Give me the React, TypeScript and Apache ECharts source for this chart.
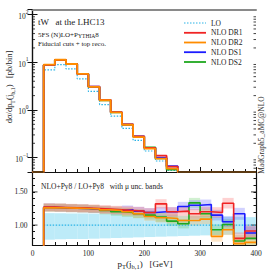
import React, { useEffect, useRef } from 'react';
import * as echarts from 'echarts';

// ---------- data ----------
const X_MIN = 0;
const X_MAX = 400;
const Y_MIN = 0.05;
const Y_MAX = 128;
const R_MIN = 0.7;
const R_MAX = 1.8;

// main panel bins (pT edges, GeV)
const mainEdges = [20, 40, 60, 80, 100, 120, 140, 160, 180, 200, 220, 240, 260];
const loMain = [6.9, 8.9, 7.3, 4.5, 2.45, 1.3, 0.74, 0.41, 0.23, 0.138, 0.085, 0.054];
const dr1Main = [8.8, 11.2, 9.3, 5.7, 3.1, 1.63, 0.9, 0.5, 0.28, 0.16, 0.11, 0.065];
const dr2Main = [8.9, 11.3, 9.2, 5.7, 3.05, 1.6, 0.89, 0.49, 0.27, 0.155, 0.095, 0.059];
const ds1Main = [8.8, 11.2, 9.25, 5.7, 3.08, 1.61, 0.9, 0.5, 0.28, 0.16, 0.1, 0.066];
const ds2Main = [8.8, 11.2, 9.2, 5.7, 3.05, 1.6, 0.89, 0.49, 0.275, 0.165, 0.097, 0.056];

// ratio panel bins
const ratioEdges = [20, 40, 60, 80, 100, 120, 140, 160, 180, 200, 220, 240, 260, 280, 300, 320, 340, 360, 380, 400];
const dr1Ratio = [1.27, 1.265, 1.26, 1.255, 1.25, 1.24, 1.23, 1.22, 1.21, 1.19, 1.32, 1.2, 1.21, 1.17, 1.2, 1.19, 1.33, 0.8, 0.91];
const dr2Ratio = [1.26, 1.26, 1.255, 1.25, 1.245, 1.23, 1.22, 1.2, 1.17, 1.13, 1.11, 1.1, 1.07, 1.07, 1.09, 0.83, 0.93, 0.72, 0.74];
const ds1Ratio = [1.265, 1.26, 1.255, 1.25, 1.24, 1.23, 1.22, 1.23, 1.21, 1.19, 1.2, 1.2, 1.28, 1.3, 1.31, 1.15, 1.05, 1.17, 0.88];
const ds2Ratio = [1.265, 1.26, 1.255, 1.25, 1.24, 1.22, 1.2, 1.19, 1.17, 1.15, 1.12, 1.06, 1.02, 1.335, 1.17, 0.93, 1.01, 0.76, 0.8];
const nloUnc = [0.06, 0.06, 0.06, 0.06, 0.06, 0.06, 0.06, 0.065, 0.065, 0.065, 0.07, 0.07, 0.07, 0.075, 0.075, 0.08, 0.08, 0.09, 0.1];
const loBandUp = [1.18, 1.18, 1.175, 1.175, 1.17, 1.165, 1.165, 1.16, 1.155, 1.15, 1.15, 1.145, 1.14, 1.14, 1.135, 1.13, 1.13, 1.125, 1.12];
const loBandDn = [0.78, 0.785, 0.79, 0.79, 0.795, 0.8, 0.805, 0.81, 0.815, 0.82, 0.825, 0.83, 0.835, 0.84, 0.845, 0.85, 0.855, 0.86, 0.865];

const ratioTickLabels = ['1.00', '1.50'];
const legendNames = ['LO', 'NLO DR1', 'NLO DR2', 'NLO DS1', 'NLO DS2'];

// ---------- styles ----------
const FONT = "'Liberation Serif', 'DejaVu Serif', serif";
const TXT = '#222';
const C_LO = '#2ab3e6';
const C_DR1 = '#f02424';
const C_DR2 = '#ff8c00';
const C_DS1 = '#1c1cff';
const C_DS2 = '#1fa81f';
const B_LO = '#bdebf8';
const B_DR1 = 'rgba(250,90,90,0.28)';
const B_DR2 = 'rgba(255,170,60,0.28)';
const B_DS1 = 'rgba(90,90,250,0.28)';
const B_DS2 = 'rgba(90,200,90,0.28)';
const FLOOR = '#5c3a12';

const GL = 32.5;
const GW = 223.5;

function mainStep(vals: number[]) {
  const pts: number[][] = [[X_MIN, Y_MIN]];
  for (let i = 0; i < vals.length; i++) pts.push([mainEdges[i], vals[i]]);
  pts.push([mainEdges[mainEdges.length - 1], Y_MIN]);
  pts.push([X_MAX, Y_MIN]);
  return pts;
}
function ratioStep(vals: number[]) {
  const pts: number[][] = [[X_MIN, 0]];
  for (let i = 0; i < vals.length; i++) pts.push([ratioEdges[i], vals[i]]);
  pts.push([ratioEdges[ratioEdges.length - 1], vals[vals.length - 1]]);
  return pts;
}
function bandData(lo: number[], hi: number[]) {
  return lo.map((l, i) => [ratioEdges[i], ratioEdges[i + 1], l, hi[i]]);
}

function bandSeries(data: number[][], color: string) {
  return {
    type: 'custom',
    xAxisIndex: 2,
    yAxisIndex: 2,
    silent: true,
    data,
    encode: { x: [0, 1], y: [2, 3] },
    renderItem: (params: any, api: any) => {
      const p0 = api.coord([api.value(0), api.value(3)]);
      const p1 = api.coord([api.value(1), api.value(2)]);
      const cs = params.coordSys;
      const shape = echarts.graphic.clipRectByRect(
        { x: p0[0], y: p0[1], width: p1[0] - p0[0], height: p1[1] - p0[1] },
        { x: cs.x, y: cs.y, width: cs.width, height: cs.height }
      );
      if (!shape) return null;
      return { type: 'rect', shape, style: { fill: color } };
    },
  };
}

function stepLine(data: number[][], color: string, xi: number, yi: number, width: number, dotted = false) {
  return {
    type: 'line',
    xAxisIndex: xi,
    yAxisIndex: yi,
    data,
    step: 'end',
    symbol: 'none',
    silent: true,
    clip: true,
    lineStyle: { color, width, type: dotted ? [1.5, 1.5] : 'solid' },
  };
}

const minorLogTicks: number[] = [];
for (const d of [0.01, 0.1, 1, 10]) {
  for (let k = 2; k <= 9; k++) {
    const v = +(k * d).toPrecision(3);
    if (v > Y_MIN && v < Y_MAX) minorLogTicks.push(v);
  }
}

function tickSeries(values: number[], xi: number, yi: number, len: number) {
  return {
    type: 'custom',
    xAxisIndex: xi,
    yAxisIndex: yi,
    silent: true,
    data: values.map((v) => [X_MIN, v]),
    encode: { x: 0, y: 1 },
    renderItem: (params: any, api: any) => {
      const p = api.coord([X_MIN, api.value(1)]);
      const q = api.coord([X_MAX, api.value(1)]);
      return {
        type: 'group',
        children: [
          { type: 'line', shape: { x1: p[0], y1: p[1], x2: p[0] + len, y2: p[1] }, style: { stroke: '#111', lineWidth: 0.8 } },
          { type: 'line', shape: { x1: q[0] - len, y1: q[1], x2: q[0], y2: q[1] }, style: { stroke: '#111', lineWidth: 0.8 } },
        ],
      };
    },
  };
}

const axisLineStyle = { lineStyle: { color: '#111', width: 1.2 } };

export default function App() {
  const ref = useRef<HTMLDivElement>(null);
  useEffect(() => {
    if (!ref.current) return;
    const chart = echarts.init(ref.current, undefined, { renderer: 'svg' });
    const legendColors = [C_LO, C_DR1, C_DR2, C_DS1, C_DS2];
    const legendY = [23, 32.8, 42.5, 52.2, 62];
    const legendGraphics: any[] = [];
    legendNames.forEach((n, i) => {
      legendGraphics.push({
        type: 'line',
        shape: { x1: 184, y1: legendY[i], x2: 206, y2: legendY[i] },
        style: { stroke: legendColors[i], lineWidth: i === 0 ? 1 : 1.8, lineDash: i === 0 ? [1.5, 1.5] : null },
      });
      legendGraphics.push({
        type: 'text',
        x: 211,
        y: legendY[i],
        style: { text: n, fontFamily: FONT, fontSize: 7.5, fill: TXT, verticalAlign: 'middle' },
      });
    });

    const option: any = {
      animation: false,
      backgroundColor: '#fff',
      grid: [
        { left: GL, top: 9.5, width: GW, height: 162.5 },
        { left: GL, top: 172, width: GW, height: 73 },
      ],
      xAxis: [
        {
          gridIndex: 0, type: 'value', min: X_MIN, max: X_MAX, interval: 100, position: 'bottom',
          axisLine: axisLineStyle,
          axisTick: { inside: true, length: 5, lineStyle: { color: '#111' } },
          minorTick: { show: true, splitNumber: 5, length: 3, lineStyle: { color: '#111' } },
          axisLabel: { show: false }, splitLine: { show: false },
        },
        {
          gridIndex: 0, type: 'value', min: X_MIN, max: X_MAX, position: 'top',
          axisLine: { lineStyle: { color: '#8a8a8a', width: 2 } },
          axisTick: { show: false }, axisLabel: { show: false }, splitLine: { show: false },
        },
        {
          gridIndex: 1, type: 'value', min: X_MIN, max: X_MAX, interval: 100, position: 'bottom',
          axisLine: axisLineStyle,
          axisTick: { inside: true, length: 5, lineStyle: { color: '#111' } },
          minorTick: { show: true, splitNumber: 5, length: 3, lineStyle: { color: '#111' } },
          axisLabel: { fontFamily: FONT, fontSize: 7.5, color: TXT, margin: 4, lineHeight: 8 },
          splitLine: { show: false },
        },
      ],
      yAxis: [
        {
          gridIndex: 0, type: 'log', logBase: 10, min: Y_MIN, max: Y_MAX, position: 'left',
          axisLine: axisLineStyle,
          axisTick: { inside: true, length: 5, lineStyle: { color: '#111' } },
          splitLine: { show: false },
          axisLabel: {
            margin: 4,
            showMinLabel: false,
            showMaxLabel: false,
            formatter: (v: number) => {
              const l = Math.log10(v);
              const e = Math.round(l);
              if (Math.abs(l - e) > 1e-6) return '';
              return '{b|10}{s|' + (e < 0 ? '\u2212' + -e : e) + '}';
            },
            rich: {
              b: { fontFamily: FONT, fontSize: 7.5, color: TXT, lineHeight: 12, verticalAlign: 'bottom' },
              s: { fontFamily: FONT, fontSize: 5.5, color: TXT, lineHeight: 12, verticalAlign: 'top' },
            },
          },
        },
        {
          gridIndex: 0, type: 'log', logBase: 10, min: Y_MIN, max: Y_MAX, position: 'right',
          axisLine: axisLineStyle,
          axisTick: { inside: true, length: 5, lineStyle: { color: '#111' } },
          axisLabel: { show: false }, splitLine: { show: false },
        },
        {
          gridIndex: 1, type: 'value', min: R_MIN, max: R_MAX, interval: 0.1, position: 'left',
          axisLine: axisLineStyle,
          axisTick: { inside: true, length: 2.5, lineStyle: { color: '#111' } },
          splitLine: { show: false },
          axisLabel: {
            margin: 5, fontFamily: FONT, fontSize: 7.5, color: TXT,
            formatter: (v: number) => {
              for (const t of ratioTickLabels) if (Math.abs(v - parseFloat(t)) < 1e-6) return t;
              return '';
            },
          },
        },
        {
          gridIndex: 1, type: 'value', min: R_MIN, max: R_MAX, interval: 0.1, position: 'right',
          axisLine: axisLineStyle,
          axisTick: { inside: true, length: 2.5, lineStyle: { color: '#111' } },
          axisLabel: { show: false }, splitLine: { show: false },
        },
      ],
      series: [
        // main panel
        tickSeries(minorLogTicks, 0, 0, 2.5),
        stepLine(mainStep(loMain), C_LO, 0, 0, 1.2, true),
        stepLine(mainStep(ds2Main), C_DS2, 0, 0, 1.8),
        stepLine(mainStep(ds1Main), C_DS1, 0, 0, 1.8),
        stepLine(mainStep(dr1Main), C_DR1, 0, 0, 1.8),
        stepLine(mainStep(dr2Main), C_DR2, 0, 0, 1.8),
        {
          type: 'line', xAxisIndex: 0, yAxisIndex: 0, symbol: 'none', silent: true, clip: false,
          data: [[X_MIN, Y_MIN], [mainEdges[0], Y_MIN]],
          lineStyle: { color: FLOOR, width: 2 },
        },
        {
          type: 'line', xAxisIndex: 0, yAxisIndex: 0, symbol: 'none', silent: true, clip: false,
          data: [[mainEdges[mainEdges.length - 1], Y_MIN], [X_MAX, Y_MIN]],
          lineStyle: { color: FLOOR, width: 2 },
        },
        // ratio panel
        bandSeries(bandData(loBandDn, loBandUp), B_LO),
        bandSeries(bandData(ds2Ratio.map((v, i) => v - nloUnc[i]), ds2Ratio.map((v, i) => v + nloUnc[i])), B_DS2),
        bandSeries(bandData(ds1Ratio.map((v, i) => v - nloUnc[i]), ds1Ratio.map((v, i) => v + nloUnc[i])), B_DS1),
        bandSeries(bandData(dr1Ratio.map((v, i) => v - nloUnc[i]), dr1Ratio.map((v, i) => v + nloUnc[i])), B_DR1),
        bandSeries(bandData(dr2Ratio.map((v, i) => v - nloUnc[i]), dr2Ratio.map((v, i) => v + nloUnc[i])), B_DR2),
        {
          type: 'line', xAxisIndex: 2, yAxisIndex: 2, symbol: 'none', silent: true,
          data: [[ratioEdges[0], 1], [X_MAX, 1]],
          lineStyle: { color: C_LO, width: 1.2, type: [1.5, 1.5] },
        },
        stepLine(ratioStep(ds2Ratio), C_DS2, 2, 2, 1.6),
        stepLine(ratioStep(ds1Ratio), C_DS1, 2, 2, 1.6),
        stepLine(ratioStep(dr1Ratio), C_DR1, 2, 2, 1.6),
        stepLine(ratioStep(dr2Ratio), C_DR2, 2, 2, 1.6),
        tickSeries([1.0, 1.5], 2, 2, 5),
      ],
      graphic: [
        {
          type: 'text', x: 38, y: 22,
          style: { text: 'tW   at the LHC13', fontFamily: FONT, fontSize: 9, fill: TXT, verticalAlign: 'middle' },
        },
        {
          type: 'text', x: 38, y: 34,
          style: {
            text: '{a|5FS (N)LO+P}{c|YTHIA}{a|8}',
            verticalAlign: 'middle',
            rich: {
              a: { fontFamily: FONT, fontSize: 7, fill: TXT, verticalAlign: 'bottom', lineHeight: 9 },
              c: { fontFamily: FONT, fontSize: 5.6, fill: TXT, verticalAlign: 'bottom', lineHeight: 9 },
            },
          },
        },
        {
          type: 'text', x: 38, y: 43.5,
          style: { text: 'Fiducial cuts + top reco.', fontFamily: FONT, fontSize: 7, fill: TXT, verticalAlign: 'middle' },
        },
        ...legendGraphics,
        {
          type: 'text', x: 41, y: 186,
          style: { text: 'NLO+Py8 / LO+Py8   with \u03bc unc. bands', fontFamily: FONT, fontSize: 7.5, fill: TXT, verticalAlign: 'middle' },
        },
        {
          type: 'text', x: 261, y: 135, rotation: Math.PI / 2,
          style: { text: 'MadGraph5_aMC@NLO', fontFamily: FONT, fontSize: 7.5, fill: '#333', align: 'center', verticalAlign: 'middle' },
        },
        {
          type: 'text', x: 10, y: 87, rotation: Math.PI / 2,
          style: {
            text: '{m|d\u03c3/dp}{s|T}{m|(j}{s|b,1}{m|)   [pb/bin]}',
            align: 'center', verticalAlign: 'middle',
            rich: {
              m: { fontFamily: FONT, fontSize: 8.5, fill: TXT, lineHeight: 11, verticalAlign: 'top' },
              s: { fontFamily: FONT, fontSize: 6, fill: TXT, lineHeight: 11, verticalAlign: 'bottom' },
            },
          },
        },
        {
          type: 'text', x: 145, y: 264.5,
          style: {
            text: '{m|p}{s|T}{m|(j}{s|b,1}{m|)   [GeV]}',
            align: 'center', verticalAlign: 'middle',
            rich: {
              m: { fontFamily: FONT, fontSize: 9, fill: TXT, lineHeight: 10, verticalAlign: 'top' },
              s: { fontFamily: FONT, fontSize: 6.5, fill: TXT, lineHeight: 10, verticalAlign: 'bottom' },
            },
          },
        },
      ],
    };
    chart.setOption(option);
    return () => chart.dispose();
  }, []);
  return <div ref={ref} style={{ position: 'fixed', left: 0, top: 0, width: 270, height: 270 }} />;
}
